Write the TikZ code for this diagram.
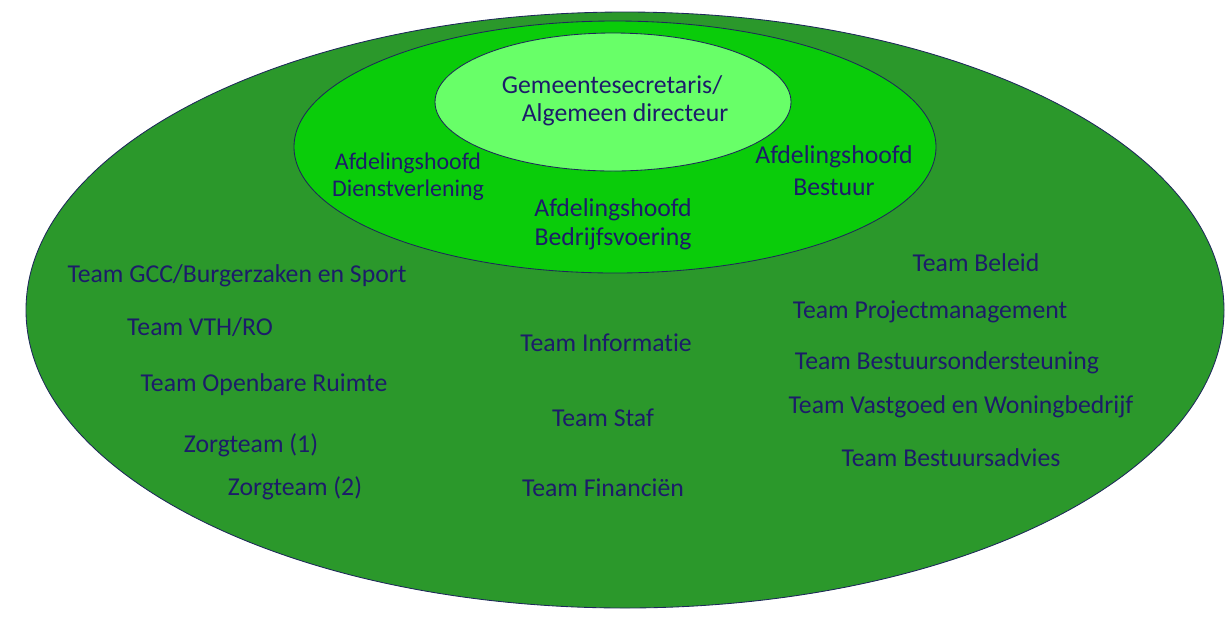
\documentclass[tikz,border=0pt]{standalone}
\usepackage{fontspec}
\setmainfont{Carlito}[Ligatures=NoCommon]
\definecolor{outergreen}{RGB}{43,152,43}
\definecolor{midgreen}{RGB}{10,204,10}
\definecolor{innergreen}{RGB}{104,255,104}
\definecolor{navytext}{RGB}{28,28,105}
\definecolor{rimline}{RGB}{30,40,90}
\tikzset{
  lbl/.style={text=navytext,font=\fontsize{18.3}{22}\selectfont,inner sep=0pt},
  lblsmall/.style={lbl,font=\fontsize{17}{20}\selectfont},
  rim/.style={draw=rimline,line width=0.6pt}
}
\begin{document}
\begin{tikzpicture}[x=0.025cm,y=-0.025cm]
\useasboundingbox (0,0) rectangle (1232,621);
\filldraw[rim,fill=outergreen] (625,310) ellipse [x radius=599,y radius=298];
\filldraw[rim,fill=midgreen] (615,147) ellipse [x radius=321,y radius=126];
\filldraw[rim,fill=innergreen] (613,102) ellipse [x radius=178,y radius=69];
% top
\node[lbl] (gs1) at (612,85) {Gemeentesecretaris/};
\node[lbl] (gs2) at (625,115) {Algemeen directeur};
% afdelingen
\node[lblsmall] (dv1) at (408,163) {Afdelingshoofd};
\node[lblsmall] (dv2) at (408,190) {Dienstverlening};
\node[lbl] (bv1) at (613,210) {Afdelingshoofd};
\node[lbl] (bv2) at (613,239) {Bedrijfsvoering};
\node[lbl] (be1) at (834,157) {Afdelingshoofd};
\node[lbl] (be2) at (834,187) {Bestuur};
% teams left
\node[lbl] (gcc) at (237,276) {Team GCC/Burgerzaken en Sport};
\node[lbl] (vth) at (200,327) {Team VTH/RO};
\node[lbl] (obr) at (264,385) {Team Openbare Ruimte};
\node[lbl] (zt1) at (251,445) {Zorgteam (1)};
\node[lbl] (zt2) at (295,488) {Zorgteam (2)};
% teams middle
\node[lbl] (inf) at (606,343) {Team Informatie};
\node[lbl] (stf) at (603,418) {Team Staf};
\node[lbl] (fin) at (603,488) {Team Financiën};
% teams right
\node[lbl] (bel) at (976,263) {Team Beleid};
\node[lbl] (prm) at (930,312) {Team Projectmanagement};
\node[lbl] (bos) at (947,363) {Team Bestuursondersteuning};
\node[lbl] (vgw) at (961,407) {Team Vastgoed en Woningbedrijf};
\node[lbl] (bad) at (951,458) {Team Bestuursadvies};
\end{tikzpicture}
\end{document}
